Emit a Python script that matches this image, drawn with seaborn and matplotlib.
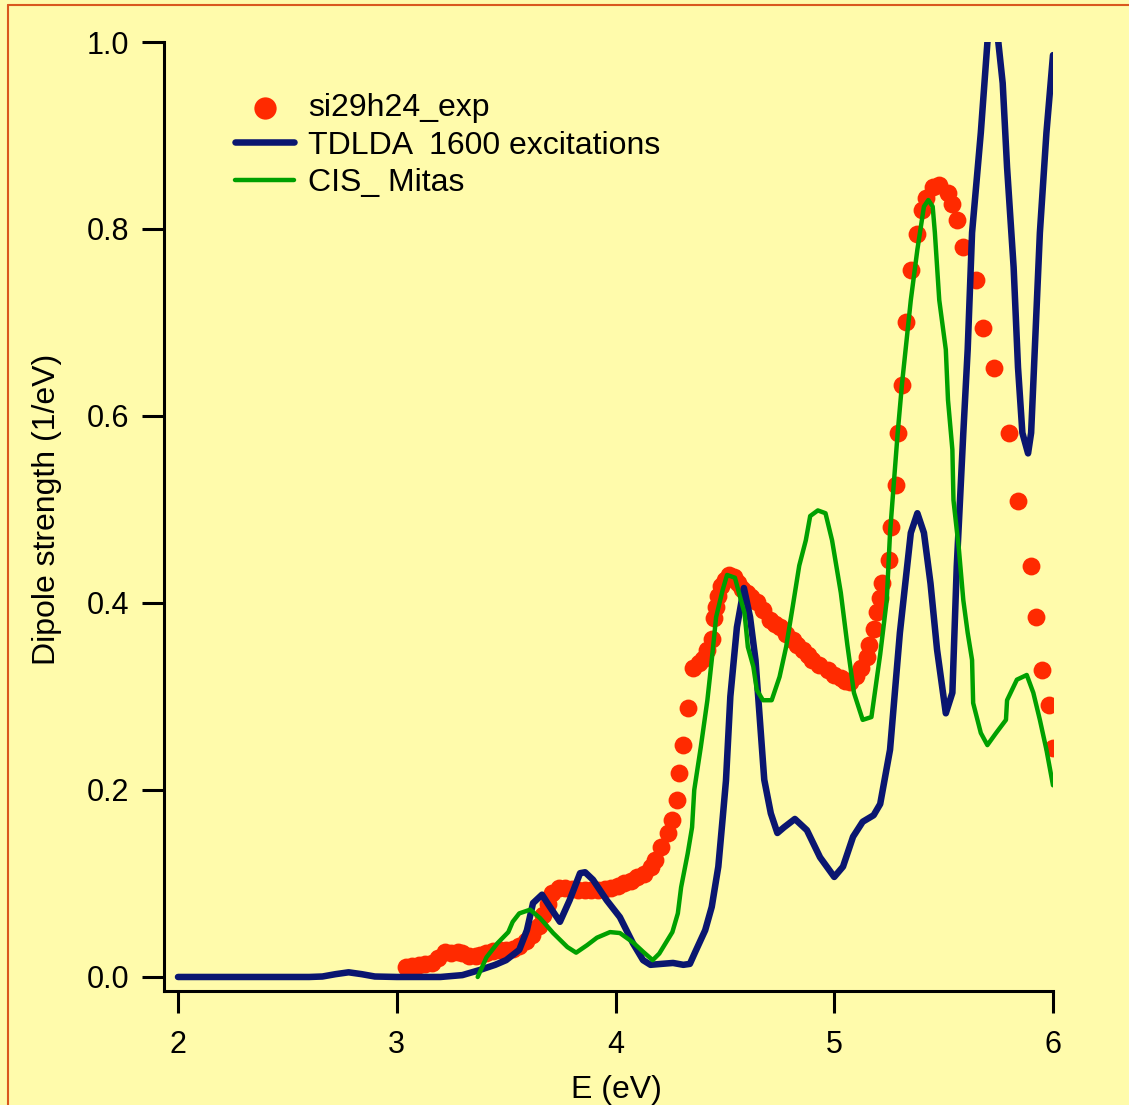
import matplotlib
matplotlib.use("Agg")
import matplotlib.pyplot as plt
from matplotlib.lines import Line2D
import seaborn as sns
import pandas as pd

# ---------------- data ----------------
exp_e = [3.04, 3.07, 3.10, 3.13, 3.16, 3.19, 3.22, 3.25, 3.28, 3.30, 3.33, 3.36, 3.38,
         3.41, 3.44, 3.47, 3.50, 3.53, 3.56, 3.59, 3.62, 3.65, 3.67, 3.69, 3.71, 3.74,
         3.77, 3.80, 3.83, 3.86, 3.89, 3.92, 3.95, 3.98, 4.01, 4.04, 4.07, 4.10, 4.13,
         4.16, 4.18, 4.21, 4.24, 4.26, 4.28, 4.29, 4.31, 4.33, 4.355, 4.38, 4.40, 4.42,
         4.44, 4.45, 4.46, 4.47, 4.48, 4.50, 4.52, 4.54, 4.56, 4.58, 4.60, 4.62, 4.646,
         4.674, 4.706, 4.73, 4.75, 4.78, 4.81, 4.83, 4.857, 4.88, 4.90, 4.93, 4.97, 5.00,
         5.03, 5.05, 5.07, 5.10, 5.12, 5.15, 5.16, 5.18, 5.195, 5.21, 5.22, 5.25, 5.26,
         5.28, 5.29, 5.31, 5.33, 5.35, 5.38, 5.40, 5.42, 5.45, 5.48, 5.52, 5.54, 5.56,
         5.59, 5.65, 5.68, 5.73, 5.80, 5.84, 5.90, 5.92, 5.95, 5.98, 6.00]
exp_s = [0.011, 0.012, 0.013, 0.014, 0.015, 0.020, 0.027, 0.026, 0.027, 0.026, 0.022, 0.022, 0.024,
         0.026, 0.028, 0.029, 0.029, 0.030, 0.033, 0.038, 0.045, 0.055, 0.066, 0.078, 0.090, 0.095,
         0.095, 0.094, 0.093, 0.093, 0.093, 0.093, 0.094, 0.095, 0.097, 0.100, 0.103, 0.107, 0.110,
         0.118, 0.125, 0.139, 0.154, 0.168, 0.189, 0.218, 0.248, 0.288, 0.330, 0.336, 0.340, 0.350,
         0.362, 0.384, 0.396, 0.408, 0.418, 0.425, 0.430, 0.428, 0.421, 0.415, 0.411, 0.406, 0.401,
         0.392, 0.382, 0.377, 0.374, 0.367, 0.360, 0.355, 0.350, 0.344, 0.339, 0.334, 0.328, 0.323,
         0.320, 0.317, 0.315, 0.322, 0.330, 0.342, 0.355, 0.372, 0.390, 0.405, 0.421, 0.446, 0.481,
         0.526, 0.582, 0.633, 0.701, 0.756, 0.795, 0.820, 0.833, 0.845, 0.847, 0.839, 0.827, 0.810,
         0.781, 0.745, 0.694, 0.651, 0.582, 0.509, 0.440, 0.385, 0.328, 0.291, 0.245]

tdlda_e = [2.00, 2.30, 2.60, 2.66, 2.72, 2.78, 2.84, 2.90, 3.00, 3.20, 3.30, 3.38, 3.45, 3.50,
           3.56, 3.595, 3.623, 3.664, 3.70, 3.746, 3.79, 3.838, 3.861, 3.897, 3.96, 4.02, 4.08,
           4.126, 4.16, 4.21, 4.263, 4.31, 4.34, 4.363, 4.41, 4.44, 4.47, 4.49, 4.505, 4.525,
           4.555, 4.587, 4.615, 4.64, 4.66, 4.68, 4.71, 4.74, 4.77, 4.82, 4.875, 4.935, 5.00,
           5.04, 5.086, 5.13, 5.18, 5.21, 5.255, 5.30, 5.35, 5.38, 5.41, 5.44, 5.47, 5.51, 5.54,
           5.56, 5.59, 5.61, 5.63, 5.67, 5.70, 5.725, 5.75, 5.77, 5.79, 5.82, 5.84, 5.86, 5.886,
           5.90, 5.91, 5.94, 5.97, 6.00]
tdlda_s = [0.0, 0.0, 0.0, 0.0005, 0.003, 0.005, 0.003, 0.0005, 0.0, 0.0, 0.002, 0.0075, 0.013, 0.018,
           0.029, 0.050, 0.079, 0.088, 0.075, 0.059, 0.082, 0.111, 0.112, 0.104, 0.082, 0.064, 0.036,
           0.018, 0.013, 0.014, 0.015, 0.013, 0.014, 0.026, 0.050, 0.075, 0.118, 0.17, 0.21, 0.30,
           0.374, 0.416, 0.385, 0.339, 0.275, 0.211, 0.175, 0.154, 0.160, 0.169, 0.157, 0.128, 0.107,
           0.118, 0.150, 0.166, 0.173, 0.185, 0.243, 0.368, 0.475, 0.496, 0.475, 0.421, 0.350, 0.282, 0.304,
           0.439, 0.582, 0.671, 0.796, 0.903, 0.999, 1.08, 1.0, 0.956, 0.866, 0.759, 0.652, 0.582, 0.560,
           0.582, 0.635, 0.796, 0.903, 0.986]

cis_e = [3.37, 3.41, 3.46, 3.51, 3.53, 3.56, 3.61, 3.655, 3.715, 3.78, 3.82, 3.87, 3.915, 3.975,
         4.02, 4.08, 4.126, 4.17, 4.20, 4.26, 4.285, 4.30, 4.33, 4.35, 4.36, 4.39, 4.42, 4.44,
         4.46, 4.49, 4.51, 4.546, 4.57, 4.59, 4.605, 4.63, 4.646, 4.674, 4.714, 4.75, 4.78, 4.81,
         4.84, 4.87, 4.89, 4.925, 4.96, 4.99, 5.03, 5.06, 5.09, 5.13, 5.17, 5.21, 5.24, 5.255,
         5.29, 5.31, 5.35, 5.38, 5.41, 5.43, 5.45, 5.46, 5.48, 5.51, 5.52, 5.54, 5.545, 5.57,
         5.59, 5.61, 5.63, 5.635, 5.67, 5.70, 5.74, 5.785, 5.79, 5.835, 5.88, 5.91, 5.94, 5.97, 6.00]
cis_s = [0.0, 0.021, 0.036, 0.048, 0.059, 0.068, 0.072, 0.063, 0.047, 0.032, 0.026, 0.034, 0.042, 0.048,
         0.047, 0.037, 0.027, 0.018, 0.025, 0.048, 0.068, 0.096, 0.132, 0.160, 0.200, 0.246, 0.296, 0.339,
         0.385, 0.414, 0.430, 0.427, 0.406, 0.389, 0.353, 0.332, 0.307, 0.296, 0.296, 0.321, 0.353, 0.396,
         0.440, 0.467, 0.493, 0.499, 0.496, 0.467, 0.411, 0.355, 0.304, 0.275, 0.278, 0.345, 0.403, 0.475,
         0.582, 0.635, 0.724, 0.778, 0.824, 0.831, 0.824, 0.796, 0.724, 0.671, 0.617, 0.564, 0.510, 0.457,
         0.403, 0.368, 0.339, 0.293, 0.261, 0.248, 0.261, 0.275, 0.296, 0.318, 0.323, 0.304, 0.275, 0.243, 0.205]

x_ticks = [2, 3, 4, 5, 6]
y_ticks = [0.0, 0.2, 0.4, 0.6, 0.8, 1.0]
y_tick_labels = ["0.0", "0.2", "0.4", "0.6", "0.8", "1.0"]

labels = ["si29h24_exp", "TDLDA  1600 excitations", "CIS_ Mitas"]

# ---------------- style ----------------
BG = "#FFFBAB"
RED = "#FF2A00"
BLUE = "#0A1670"
GREEN = "#00A000"
BORDER = "#D9581E"

sns.set_theme(style="ticks")
plt.rcParams["font.family"] = ["Liberation Sans", "DejaVu Sans"]

fig = plt.figure(figsize=(11.29, 11.05), dpi=100)
fig.patch.set_facecolor(BG)
ax = fig.add_axes([164 / 1129, 1 - 991 / 1105, (1053 - 164) / 1129, (991 - 42) / 1105])
ax.set_facecolor(BG)

df_exp = pd.DataFrame({"E": exp_e, "S": exp_s})
df_td = pd.DataFrame({"E": tdlda_e, "S": tdlda_s})
df_cis = pd.DataFrame({"E": cis_e, "S": cis_s})

sns.scatterplot(data=df_exp, x="E", y="S", ax=ax, color=RED, s=165, linewidth=0,
                label=labels[0], zorder=2)
sns.lineplot(data=df_td, x="E", y="S", ax=ax, color=BLUE, linewidth=4.7, sort=False,
             estimator=None, label=labels[1], zorder=3, solid_capstyle="round",
             solid_joinstyle="round")
sns.lineplot(data=df_cis, x="E", y="S", ax=ax, color=GREEN, linewidth=3.2, sort=False,
             estimator=None, label=labels[2], zorder=4, solid_joinstyle="round")

ax.set_xlim(1.936, 6.0)
ax.set_ylim(-0.015, 1.0)
for side in ["top", "right"]:
    ax.spines[side].set_visible(False)
for side in ["left", "bottom"]:
    ax.spines[side].set_linewidth(2.2)
    ax.spines[side].set_color("black")

ax.set_xticks(x_ticks)
ax.set_xticklabels([str(t) for t in x_ticks])
ax.set_yticks(y_ticks)
ax.set_yticklabels(y_tick_labels)
ax.tick_params(axis="both", length=15.8, width=2.2, color="black", labelsize=22,
               labelcolor="black", direction="out")
ax.tick_params(axis="x", pad=12)
ax.tick_params(axis="y", pad=9)

ax.set_xlabel("E (eV)", fontsize=23, color="black")
ax.set_ylabel("Dipole strength (1/eV)", fontsize=23, color="black")
ax.xaxis.set_label_coords((616 - 164) / 889, (991 - 1075) / 949)
ax.yaxis.set_label_coords((62 - 164) / 889, 0.507)

leg = ax.legend(loc="upper left", bbox_to_anchor=((235 - 164) / 889, (991 - 93) / 949),
                frameon=False, fontsize=23, handlelength=1.85, handletextpad=0.45,
                labelspacing=0.235, borderpad=0, borderaxespad=0, markerscale=1.25)
for t in leg.get_texts():
    t.set_color("black")

# orange frame (top and left edges of the graph window)
fig.add_artist(Line2D([7.5 / 1129, 7.5 / 1129], [0, 1 - 4.5 / 1105], color=BORDER,
                      linewidth=1.5, transform=fig.transFigure))
fig.add_artist(Line2D([7.5 / 1129, 1], [1 - 4.5 / 1105, 1 - 4.5 / 1105], color=BORDER,
                      linewidth=1.5, transform=fig.transFigure))

fig.savefig("out.png", dpi=100, facecolor=BG)
